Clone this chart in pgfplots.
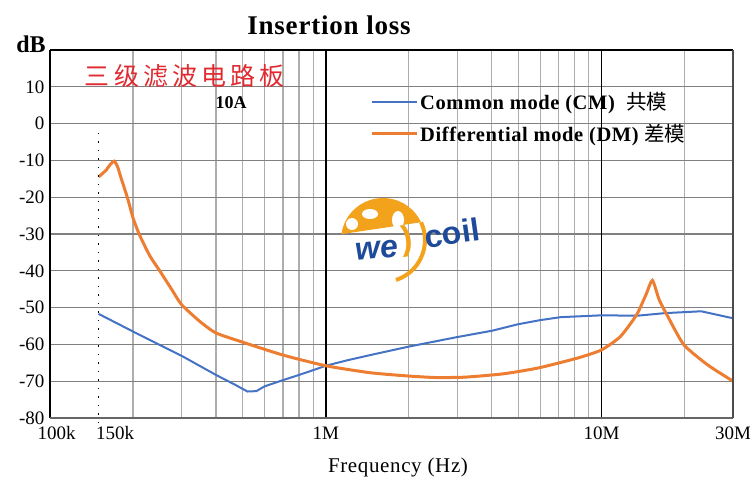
\documentclass[border=0pt]{standalone}
\usepackage{fontspec}
\setmainfont{Liberation Serif}
\newfontfamily\cjk{Noto Sans CJK SC}
\newfontfamily\logofont{Liberation Sans}
\usepackage{pgfplots}
\pgfplotsset{compat=1.18}
\definecolor{cmblue}{HTML}{4472C4}
\definecolor{dmorange}{HTML}{ED7D31}
\definecolor{redtxt}{HTML}{E02A30}
\definecolor{logoor}{HTML}{F2A31B}
\definecolor{logobl}{HTML}{1F4A9A}
\begin{document}
\begin{tikzpicture}[x=1pt,y=1pt]
\useasboundingbox (-50,-73) rectangle (700,418);
\begin{axis}[
  xmode=log, scale only axis, width=683pt, height=368pt,
  at={(0,0)}, anchor=south west,
  xmin=1e5, xmax=3e7, ymin=-80, ymax=20,
  axis line style={draw=none},
  xtick={1e5,1.5e5,1e6,1e7,3e7},
  xticklabels={\hspace{13pt}100k,\hspace{33pt}150k,1M,10M,30M\hspace{16pt}},
  minor xtick={2e5,3e5,4e5,5e5,6e5,7e5,8e5,9e5,2e6,3e6,4e6,5e6,6e6,7e6,8e6,9e6,2e7},
  xminorgrids, minor grid style={black!32, line width=1.1pt},
  ytick={-80,-70,-60,-50,-40,-30,-20,-10,0,10},
  yticklabels={-80,-70,-60,-50,-40,-30,-20,-10,0,10},
  ymajorgrids, major grid style={black!50, line width=1.1pt},
  extra x ticks={1e6,1e7}, extra x tick labels={},
  extra x tick style={xmajorgrids=true, major grid style={black, line width=1.6pt}},
  major tick length=0pt, minor tick length=0pt,
  tick label style={font=\fontsize{19}{22}\selectfont},
  xticklabel style={yshift=-5pt},
  yticklabel style={xshift=-2pt},
  clip=false,
  legend style={at={(0.4685,0.89)}, anchor=north west, draw=none, fill=none,
    inner sep=0pt, row sep=9pt, font=\fontsize{20.5}{24}\selectfont\bfseries\addfontfeature{LetterSpace=3}},
  legend cell align=left,
  legend image code/.code={\draw[#1] (0pt,0pt) -- (45pt,0pt);},
]
\addplot[cmblue, line width=2pt] coordinates {
(1.5e5,-51.7) (2e5,-56.5) (3e5,-63.1) (4e5,-68.3) (4.7e5,-71.0) (5.2e5,-72.8) (5.6e5,-72.7)
(6e5,-71.4) (7e5,-69.7) (8e5,-68.3) (9e5,-67.0) (1e6,-65.8) (1.2e6,-64.3) (1.45e6,-62.9) (2e6,-60.6) (3e6,-58.0)
(4e6,-56.3) (5e6,-54.5) (6e6,-53.4) (7.1e6,-52.6) (1e7,-52.1) (1.35e7,-52.2) (1.7e7,-51.5)
(2.3e7,-51.0) (3e7,-52.9)};
\addlegendentry{Common mode (CM)\ \ {\cjk\mdseries 共模}}
\addplot[dmorange, line width=3pt, smooth, tension=0.35] coordinates {
(1.5e5,-14.5) (1.6e5,-12.6) (1.65e5,-11.2) (1.71e5,-10.2) (1.76e5,-11.8) (1.8e5,-14.2)
(1.91e5,-20.2) (2.0e5,-25.6) (2.11e5,-30.2) (2.3e5,-35.9) (2.51e5,-40.2) (2.77e5,-45.2) (3e5,-49.2)
(3.5e5,-53.8) (4e5,-56.9) (5e5,-59.4) (7e5,-62.9) (1e6,-65.8) (1.45e6,-67.7)
(2e6,-68.6) (2.5e6,-69.0) (3.2e6,-68.9) (4.4e6,-68.0) (5.9e6,-66.4) (8.2e6,-63.7)
(1e7,-61.5) (1.17e7,-57.9) (1.34e7,-52.0) (1.45e7,-46.5) (1.53e7,-42.6) (1.62e7,-47.9)
(1.74e7,-52.4) (1.99e7,-60.1) (2.43e7,-65.6) (3e7,-70.0)};
\addlegendentry{Differential mode (DM) {\cjk\mdseries 差模}}
\addplot[black, line width=1.3pt, dash pattern=on 1.5pt off 7pt, forget plot] coordinates {(1.5e5,-2.5) (1.5e5,-82.7)};
\end{axis}
% logo watermark
\fill[logoor] (333,178) ++(172:42) arc (172:25:42) -- cycle;
\draw[logoor, line width=4pt] (333,178) ++(25:42) arc (25:-72:42);
\fill[white] (302,194) circle (6);
\fill[white] (320,204) ellipse (8 and 5);
\fill[white] (348,198) ellipse (6 and 9);
\node[font=\logofont\fontsize{32}{32}\selectfont\bfseries\itshape, text=logobl, rotate=6] at (327,168) {we};
\node[font=\logofont\fontsize{34}{34}\selectfont\bfseries, text=logoor, rotate=6] at (357,177) {)};
\node[font=\logofont\fontsize{32}{32}\selectfont\bfseries, text=logobl, rotate=8] at (402,185) {coil};
% frame
\draw[black, line width=2pt] (0,0) -- (0,368);
\draw[black, line width=1.4pt] (0,368) -- (683,368);
\draw[black!60, line width=1.4pt] (0,0) -- (683,0);
\draw[black!70, line width=1.2pt] (683,0) -- (683,368);
% texts
\node[font=\fontsize{27}{30}\selectfont\bfseries\addfontfeature{LetterSpace=3}] at (279,393) {Insertion loss};
\node[font=\fontsize{24}{28}\selectfont\bfseries] at (-19,374) {dB};
\node[font=\cjk\fontsize{25}{28}\selectfont, text=redtxt] at (135,341.5) {三\,级\,滤\,波\,电\,路\,板};
\node[font=\fontsize{18}{20}\selectfont\bfseries] at (181,315.5) {10A};
\node[font=\fontsize{21}{24}\selectfont\addfontfeature{LetterSpace=3}] at (348,-49) {Frequency (Hz)};
\end{tikzpicture}
\end{document}
